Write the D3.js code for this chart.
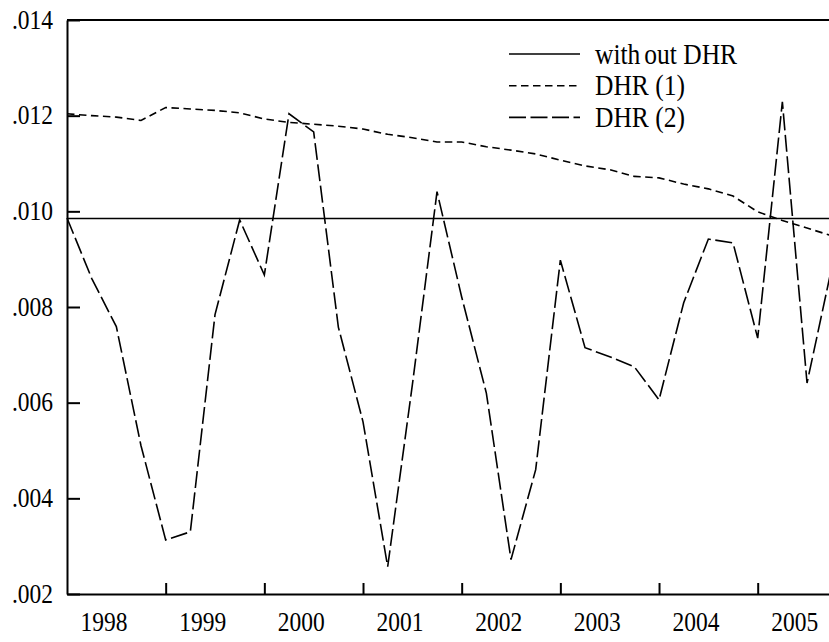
<!DOCTYPE html>
<html>
<head>
<meta charset="utf-8">
<script src="https://cdn.jsdelivr.net/npm/d3@7"></script>
<style>
  body { margin: 0; background: #fff; }
  svg text { font-family: "Liberation Serif", "Times New Roman", serif; fill: #000; }
</style>
</head>
<body>
<script>
// quarterly periods 1998Q1 .. 2005Q4
var years = ["1998", "1999", "2000", "2001", "2002", "2003", "2004", "2005"];
var quarters = [];
years.forEach(function(y){ ["Q1","Q2","Q3","Q4"].forEach(function(q){ quarters.push(y + q); }); });

// series
var withoutDHR = [0.00985, 0.00985, 0.00985, 0.00985, 0.00985, 0.00985, 0.00985, 0.00985,
  0.00985, 0.00985, 0.00985, 0.00985, 0.00985, 0.00985, 0.00985, 0.00985,
  0.00985, 0.00985, 0.00985, 0.00985, 0.00985, 0.00985, 0.00985, 0.00985,
  0.00985, 0.00985, 0.00985, 0.00985, 0.00985, 0.00985, 0.00985, 0.00985];
var dhr1 = [0.01204, 0.01200, 0.01197, 0.01190, 0.01217, 0.01214, 0.01211, 0.01206,
  0.01193, 0.01186, 0.01182, 0.01178, 0.01172, 0.01161, 0.01154, 0.01145,
  0.01145, 0.01135, 0.01128, 0.01120, 0.01107, 0.01095, 0.01087, 0.01073,
  0.01070, 0.01057, 0.01047, 0.01032, 0.00999, 0.00981, 0.00965, 0.00949];
var dhr2 = [0.00986, 0.00860, 0.00759, 0.00510, 0.00313, 0.00330, 0.00784, 0.00982,
  0.00867, 0.01204, 0.01166, 0.00758, 0.00560, 0.00257, 0.00637, 0.01041,
  0.00821, 0.00620, 0.00272, 0.00460, 0.00898, 0.00715, 0.00696, 0.00675,
  0.00606, 0.00809, 0.00942, 0.00934, 0.00735, 0.01229, 0.00641, 0.00882];

var yTicks = [0.002, 0.004, 0.006, 0.008, 0.010, 0.012, 0.014];
var legendNames = ["without DHR", "DHR (1)", "DHR (2)"];

//plot box (the right end runs past the picture edge)
var W = 829, H = 642;
var plot = {left: 67, top: 20, bottom: 594, right: 831.7};
var stretch = "scale(1,1.14)";

var svg = d3.select("body").append("svg")
  .attr("width", W)
  .attr("height", H);

var x = d3.scalePoint().domain(quarters).range([plot.left, plot.right]);
var y = d3.scaleLinear().domain([0.002, 0.014]).range([plot.bottom, plot.top]);

// top border
svg.append("line")
  .attr("x1", plot.left).attr("x2", W)
  .attr("y1", plot.top).attr("y2", plot.top)
  .attr("stroke", "#000").attr("stroke-width", 2);

// y axis, ticks pointing inward
var yAxis = svg.append("g")
  .attr("transform", "translate(" + plot.left + ",0)")
  .call(d3.axisLeft(y).tickValues(yTicks).tickSizeInner(-13).tickSizeOuter(0).tickPadding(14)
    .tickFormat(function(d){ return d3.format(".3f")(d).replace(/^0/, ""); }));
yAxis.select(".domain").attr("stroke-width", 2);
yAxis.selectAll(".tick line").attr("stroke-width", 2);
yAxis.selectAll(".tick text")
  .attr("font-size", 23.5)
  .attr("dy", "0.30em")
  .attr("transform", stretch)
  .style("font-family", "Liberation Serif");

// x axis: ticks at the first quarter of each year
var xAxis = svg.append("g")
  .attr("transform", "translate(0," + plot.bottom + ")")
  .call(d3.axisBottom(x)
    .tickValues(years.slice(1).map(function(yr){ return yr + "Q1"; }))
    .tickSizeInner(-11).tickSizeOuter(0).tickFormat(""));
xAxis.select(".domain").attr("stroke-width", 2);
xAxis.selectAll(".tick line").attr("stroke-width", 2);

// year labels centred on each year's four quarters
svg.selectAll(".year")
  .data(years)
  .enter().append("text")
  .attr("class", "year")
  .attr("transform", function(d){
    return "translate(" + (x(d + "Q2") + x.step() / 2) + ",631) " + stretch; })
  .attr("text-anchor", "middle")
  .attr("font-size", 23.5)
  .text(function(d){ return d; });

// lines
var line = d3.line()
  .x(function(d, i){ return x(quarters[i]); })
  .y(function(d){ return y(d); });

var series = [
  {name: legendNames[0], values: withoutDHR, dash: null},
  {name: legendNames[1], values: dhr1, dash: "7.5,4.5"},
  {name: legendNames[2], values: dhr2, dash: "17,4.5"}
];

series.forEach(function(s){
  svg.append("path")
    .datum(s.values)
    .attr("fill", "none")
    .attr("stroke", "#000")
    .attr("stroke-width", 1.6)
    .attr("stroke-dasharray", s.dash)
    .attr("d", line);
});

// legend
var legend = svg.append("g").attr("transform", "translate(509,54)");
series.forEach(function(s, i){
  var g = legend.append("g").attr("transform", "translate(0," + (i * 31.7) + ")");
  g.append("line")
    .attr("x1", 0).attr("x2", 71)
    .attr("y1", 0).attr("y2", 0)
    .attr("stroke", "#000")
    .attr("stroke-width", 1.6)
    .attr("stroke-dasharray", s.dash);
  var t = g.append("text")
    .attr("transform", "translate(86,9.5) " + stretch)
    .attr("font-size", 25.5);
  if (i === 0) {
    t.append("tspan").text("with");
    t.append("tspan").attr("dx", 4).text("out DHR");
  } else {
    t.text(s.name);
  }
});
</script>
</body>
</html>
